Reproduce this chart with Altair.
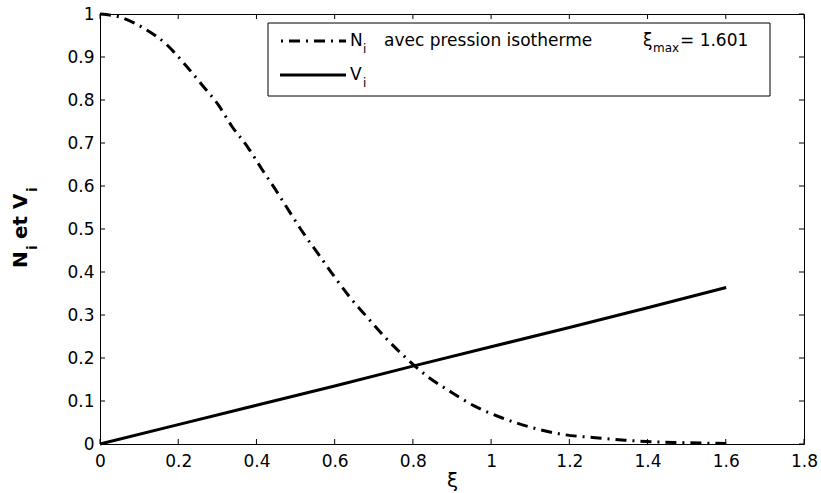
import altair as alt
import pandas as pd

# ---- data ----
n_xi = [0.0, 0.05, 0.11, 0.169, 0.215, 0.261, 0.303, 0.337, 0.378, 0.414, 0.452,
        0.486, 0.524, 0.562, 0.601, 0.641, 0.685, 0.731, 0.779, 0.836, 0.894,
        0.958, 1.027, 1.101, 1.178, 1.26, 1.342, 1.418, 1.5, 1.601]
n_val = [1.0, 0.993, 0.968, 0.93, 0.885, 0.835, 0.788, 0.739, 0.69, 0.639, 0.587,
         0.538, 0.485, 0.437, 0.387, 0.339, 0.293, 0.246, 0.203, 0.158, 0.123,
         0.088, 0.061, 0.039, 0.023, 0.015, 0.009, 0.005, 0.003, 0.001]
v_xi = [0.0, 0.2, 0.4, 0.6, 0.8, 1.0, 1.2, 1.4, 1.601]
v_val = [0.0, 0.045, 0.090, 0.135, 0.181, 0.226, 0.271, 0.317, 0.364]
x_ticks = [0, 0.2, 0.4, 0.6, 0.8, 1.0, 1.2, 1.4, 1.6, 1.8]
y_ticks = [0, 0.1, 0.2, 0.3, 0.4, 0.5, 0.6, 0.7, 0.8, 0.9, 1.0]

W, H = 704, 430
FONT = "DejaVu Sans"
DASHDOT = [11, 6, 2, 6]

n_df = pd.DataFrame({"xi": n_xi, "v": n_val})
v_df = pd.DataFrame({"xi": v_xi, "v": v_val})
xt_df = pd.DataFrame({"t": x_ticks})
yt_df = pd.DataFrame({"t": y_ticks})

xscale = alt.Scale(domain=[0, 1.8], nice=False, zero=False)
yscale = alt.Scale(domain=[0, 1], nice=False, zero=False)

xaxis = alt.Axis(values=x_ticks, format=".1~f", ticks=False, domain=False, grid=False,
                 labelFont=FONT, labelFontSize=17, labelColor="black", labelPadding=9,
                 labelFlush=False, labelOverlap=False,
                 title="ξ", titleFont=FONT, titleFontSize=20, titleFontWeight="normal",
                 titleColor="black", titlePadding=1)
yaxis = alt.Axis(values=y_ticks, format=".1~f", ticks=False, domain=False, grid=False,
                 labelFont=FONT, labelFontSize=17, labelColor="black", labelPadding=6,
                 labelFlush=False, labelOverlap=False, title=None)

base_n = alt.Chart(n_df).mark_line(color="black", strokeWidth=3, strokeDash=DASHDOT,
                                   interpolate="monotone", strokeCap="butt").encode(
    x=alt.X("xi:Q", scale=xscale, axis=xaxis),
    y=alt.Y("v:Q", scale=yscale, axis=yaxis),
)
line_v = alt.Chart(v_df).mark_line(color="black", strokeWidth=3).encode(
    x=alt.X("xi:Q", scale=xscale),
    y=alt.Y("v:Q", scale=yscale),
)

# inward ticks (MATLAB style, on all four sides)
tick_len = 5
xt_bottom = alt.Chart(xt_df).mark_rule(color="black", strokeWidth=1).encode(
    x=alt.X("t:Q", scale=xscale), y=alt.value(H), y2=alt.value(H - tick_len))
xt_top = alt.Chart(xt_df).mark_rule(color="black", strokeWidth=1).encode(
    x=alt.X("t:Q", scale=xscale), y=alt.value(0), y2=alt.value(tick_len))
yt_left = alt.Chart(yt_df).mark_rule(color="black", strokeWidth=1).encode(
    y=alt.Y("t:Q", scale=yscale), x=alt.value(0), x2=alt.value(tick_len))
yt_right = alt.Chart(yt_df).mark_rule(color="black", strokeWidth=1).encode(
    y=alt.Y("t:Q", scale=yscale), x=alt.value(W), x2=alt.value(W - tick_len))

one = pd.DataFrame({"a": [0]})

def txt(s, x, y, size=17, weight="normal", angle=0, baseline="middle", align="left"):
    kw = dict(text=s, font=FONT, fontSize=size, fontWeight=weight, color="black",
              align=align, baseline=baseline)
    if angle:
        kw["angle"] = angle
    return alt.Chart(one).mark_text(**kw).encode(x=alt.value(x), y=alt.value(y))

# legend
LX0, LX1, LY0, LY1 = 168, 670, 9, 82
R1, R2 = 27, 61
legend_box = alt.Chart(one).mark_rect(fill="white", stroke="black", strokeWidth=1).encode(
    x=alt.value(LX0), x2=alt.value(LX1), y=alt.value(LY0), y2=alt.value(LY1))
leg_n = alt.Chart(one).mark_rule(color="black", strokeWidth=3, strokeDash=[2, 6, 11, 6],
                                 strokeCap="butt").encode(
    x=alt.value(181), x2=alt.value(246), y=alt.value(R1))
leg_v = alt.Chart(one).mark_rule(color="black", strokeWidth=3).encode(
    x=alt.value(180), x2=alt.value(246), y=alt.value(R2))
legend = [
    legend_box, leg_n, leg_v,
    txt("N", 250, R1),
    txt("i", 263, R1 + 8, size=12),
    txt("avec pression isotherme", 284, R1),
    txt("ξ", 543, R1),
    txt("max", 553, R1 + 7, size=12),
    txt("= 1.601", 580, R1),
    txt("V", 250, R2),
    txt("i", 263, R2 + 8, size=12),
]

# y-axis title with subscripts, rotated
ytitle = [
    txt("N", -73, 254, size=20, weight="bold", angle=270, baseline="alphabetic"),
    txt("i", -63, 236, size=14, weight="bold", angle=270, baseline="alphabetic"),
    txt("et V", -73, 225, size=20, weight="bold", angle=270, baseline="alphabetic"),
    txt("i", -63, 178, size=14, weight="bold", angle=270, baseline="alphabetic"),
]

chart = alt.layer(
    base_n, line_v, xt_bottom, xt_top, yt_left, yt_right, *legend, *ytitle
).properties(
    width=W, height=H,
    autosize=alt.AutoSizeParams(type="none"),
    padding={"left": 100, "top": 14, "right": 17, "bottom": 49},
    background="white",
).configure_view(stroke="black", strokeWidth=1)

chart.save("out.html", embed_options={"renderer": "svg", "actions": False})
